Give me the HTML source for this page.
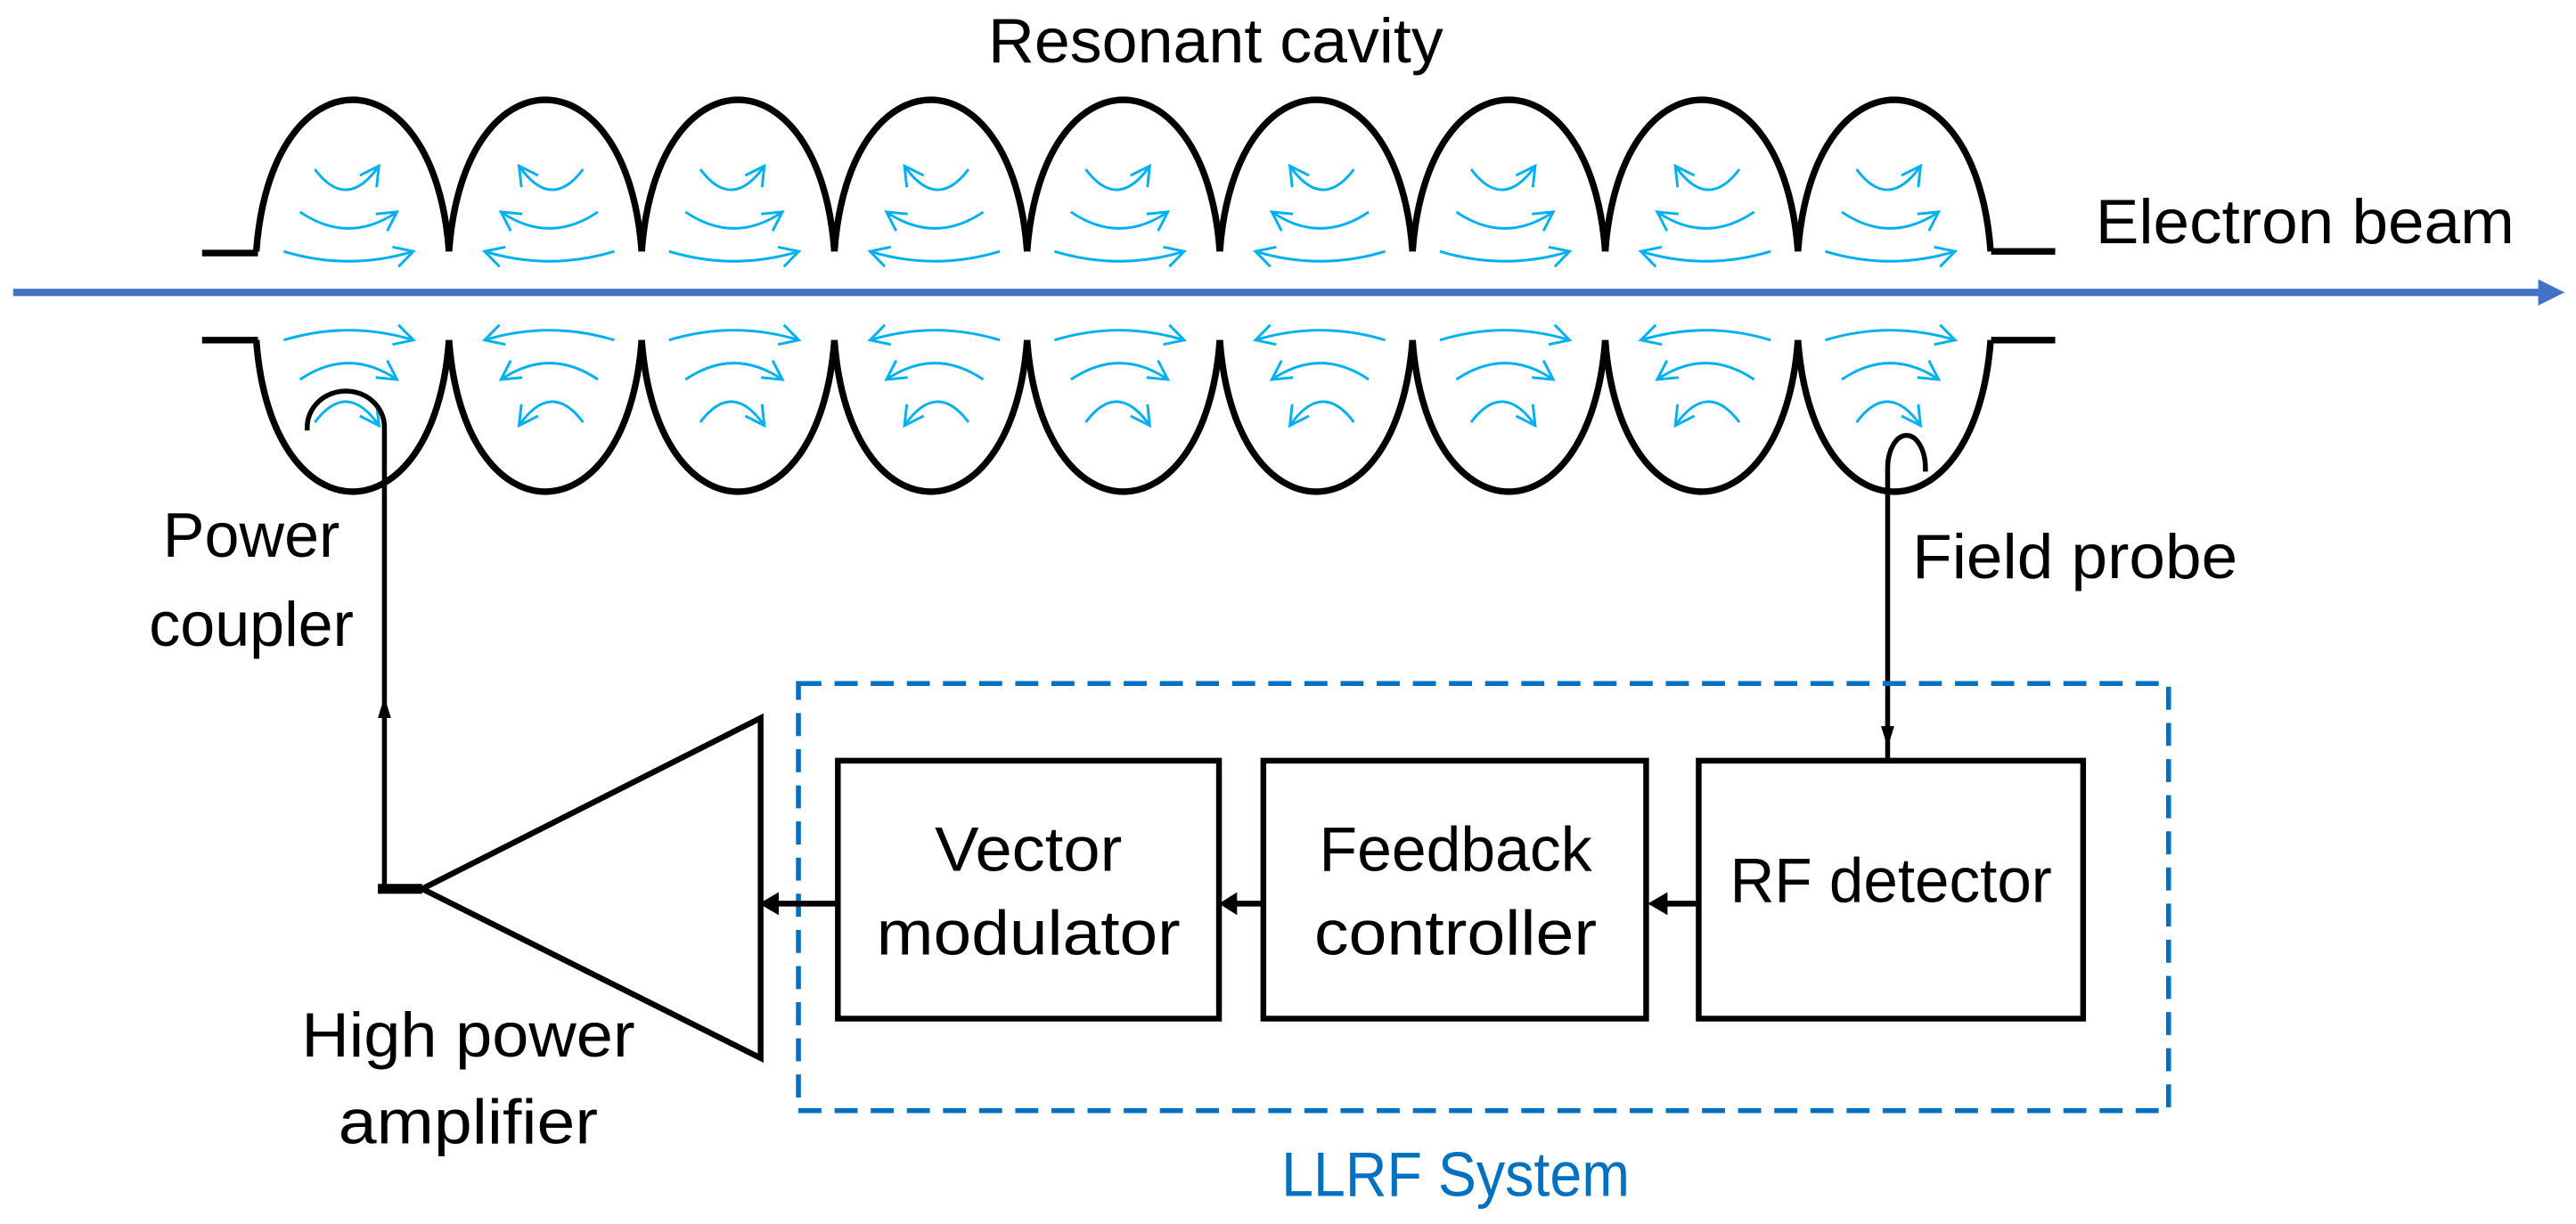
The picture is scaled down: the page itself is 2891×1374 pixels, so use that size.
<!DOCTYPE html>
<html><head><meta charset="utf-8"><style>
html,body{margin:0;padding:0;background:#fff;}
svg{display:block;}
text{font-family:"Liberation Sans",sans-serif;}
</style></head><body>
<svg id="s" width="2891" height="1374" viewBox="0 0 1568 745" preserveAspectRatio="none" xmlns="http://www.w3.org/2000/svg">
<rect width="1568" height="745" fill="#fff"/>
<g id="cav" fill="none" stroke="#000" stroke-width="4"></g>
<g id="fld" fill="none" stroke="#00B0F0" stroke-width="1.6"></g>
<g stroke="#000" stroke-width="4" fill="none">
<line x1="123" y1="154" x2="157" y2="154"/>
<line x1="123" y1="207" x2="157" y2="207"/>
<line x1="1212" y1="153" x2="1251" y2="153"/>
<line x1="1212" y1="207" x2="1251" y2="207"/>
</g>
<line x1="8" y1="178" x2="1548" y2="178" stroke="#4472C4" stroke-width="4.5"/>
<polygon points="1545,170 1561,178 1545,186" fill="#4472C4"/>
<g stroke="#000" stroke-width="3" fill="none">
<path d="M187 262 L187 260 A23.5 22 0 0 1 234 260 L234 541 L257 541"/>
<path d="M1172 287 L1172 285 A11.5 20 0 0 0 1149 285 L1149 463"/>
</g>
<polygon points="230,437 234,424 238,437" fill="#000"/>
<polygon points="1145,442 1149,455 1153,442" fill="#000"/>
<rect x="230" y="538" width="27" height="6" fill="#000"/>
<polygon points="257,541 463,437 463,644" fill="none" stroke="#000" stroke-width="3.5"/>
<rect x="486" y="416" width="834" height="260" fill="none" stroke="#0070C0" stroke-width="3" stroke-dasharray="14,8"/>
<g fill="#fff" stroke="#000" stroke-width="3.5">
<rect x="510" y="463" width="232" height="157"/>
<rect x="769" y="463" width="233" height="157"/>
<rect x="1034" y="463" width="234" height="157"/>
</g>
<g stroke="#000" stroke-width="3.5">
<line x1="1034" y1="550" x2="1014" y2="550"/>
<line x1="769" y1="550" x2="752" y2="550"/>
<line x1="510" y1="550" x2="472" y2="550"/>
</g>
<g fill="#000">
<polygon points="1015,543 1003,550 1015,557"/>
<polygon points="753,543 742,550 753,557"/>
<polygon points="474,543 462,550 474,557"/>
</g>
<g font-size="38" fill="#000" text-anchor="middle">
<text x="740" y="38" textLength="277" lengthAdjust="spacingAndGlyphs">Resonant cavity</text>
<text x="1403" y="148" textLength="255" lengthAdjust="spacingAndGlyphs">Electron beam</text>
<text x="153" y="339">Power</text>
<text x="153" y="393">coupler</text>
<text x="1263" y="352" textLength="198" lengthAdjust="spacingAndGlyphs">Field probe</text>
<text x="626" y="530" textLength="114" lengthAdjust="spacingAndGlyphs">Vector</text>
<text x="626" y="581" textLength="185" lengthAdjust="spacingAndGlyphs">modulator</text>
<text x="886" y="530" textLength="166" lengthAdjust="spacingAndGlyphs">Feedback</text>
<text x="886" y="581" textLength="172" lengthAdjust="spacingAndGlyphs">controller</text>
<text x="1151" y="549" textLength="196" lengthAdjust="spacingAndGlyphs">RF detector</text>
<text x="285" y="643" textLength="203" lengthAdjust="spacingAndGlyphs">High power</text>
<text x="285" y="696" textLength="158" lengthAdjust="spacingAndGlyphs">amplifier</text>
<text x="886" y="728" fill="#0070C0" textLength="212" lengthAdjust="spacingAndGlyphs">LLRF System</text>
</g>
</svg>
<script>
(function(){
var NS="http://www.w3.org/2000/svg";
var cav=document.getElementById('cav'),fld=document.getElementById('fld');
function p(g,d){var e=document.createElementNS(NS,'path');e.setAttribute('d',d);g.appendChild(e);}
var x0=156,w=117.3;
for(var i=0;i<9;i++){
 var a=x0+i*w,b=a+w;
 p(cav,'M'+a+' 153 C'+(a+9)+' 30 '+(b-9)+' 30 '+b+' 153');
 p(cav,'M'+a+' 207 C'+(a+9)+' 330 '+(b-9)+' 330 '+b+' 207');
 var cx=(a+b)/2, dir=(i%2==0)?1:-1;
 var arcs=[[23,16,103,13],[32,27,129,10],[42,37,153,6]];
 for(var s=0;s<2;s++){
  for(var k=0;k<3;k++){
   var A=arcs[k];
   var y=A[2], sag=A[3];
   if(s==1){y=360-y;sag=-sag;}
   var xs,xe;
   if(dir==1){xs=cx-A[0];xe=cx+A[1];}else{xs=cx+A[0];xe=cx-A[1];}
   var ys=y, ye=y-(k==0?2*(s?-1:1):0);
   var mx=(xs+xe)/2;
   p(fld,'M'+xs+' '+ys+' Q'+mx+' '+(y+2*sag)+' '+xe+' '+ye);
   var tx=xe-mx, ty=ye-(y+2*sag);
   var L=Math.sqrt(tx*tx+ty*ty); tx/=L; ty/=L;
   var hl=13, ang=0.5;
   function rot(x,y,t){return [x*Math.cos(t)-y*Math.sin(t), x*Math.sin(t)+y*Math.cos(t)];}
   var r1=rot(-tx,-ty,ang), r2=rot(-tx,-ty,-ang);
   p(fld,'M'+(xe+r1[0]*hl)+' '+(ye+r1[1]*hl)+' L'+xe+' '+ye+' L'+(xe+r2[0]*hl)+' '+(ye+r2[1]*hl));
  }
 }
}
})();
</script>
</body></html>
